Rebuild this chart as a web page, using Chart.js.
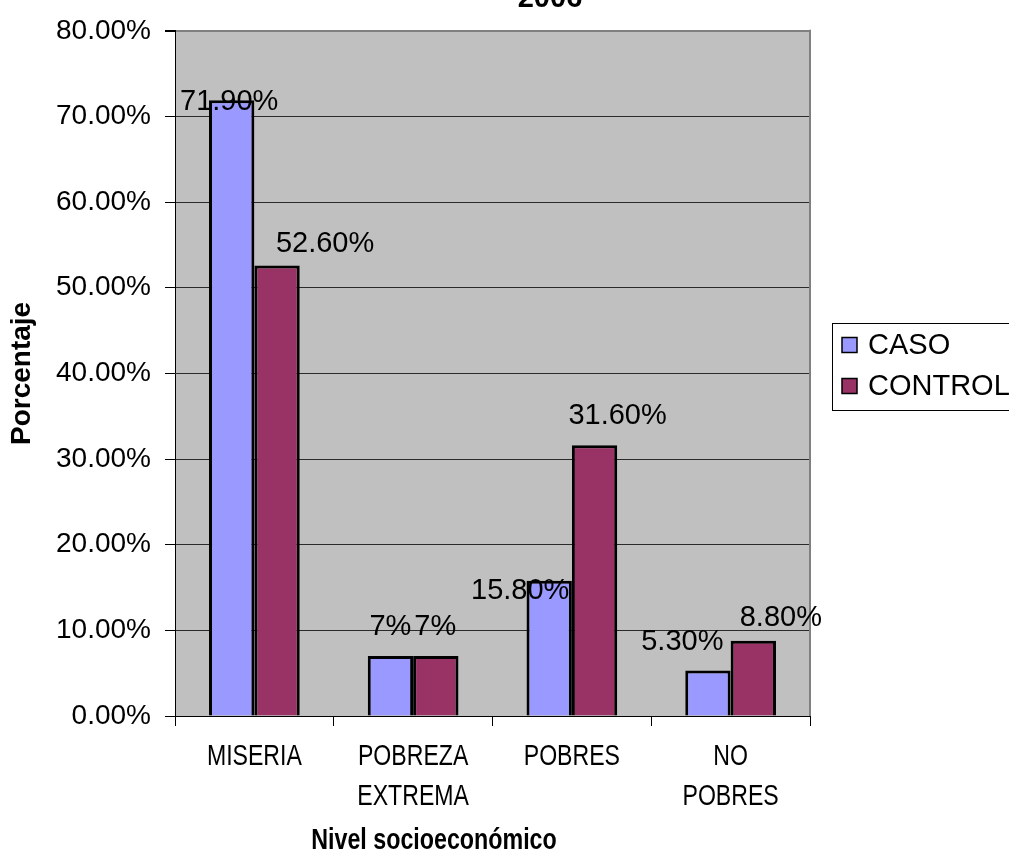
<!DOCTYPE html>
<html>
<head>
<meta charset="utf-8">
<script src="https://cdn.jsdelivr.net/npm/chart.js@4.4.0/dist/chart.umd.min.js"></script>
<style>
  html, body { margin: 0; padding: 0; background: #ffffff; overflow: hidden; }
  canvas { display: block; }
</style>
</head>
<body>
<canvas id="chart" width="1009" height="859"></canvas>
<script>
// Socioeconomic level, cases vs controls (percent)
const categories = [['MISERIA'], ['POBREZA', 'EXTREMA'], ['POBRES'], ['NO', 'POBRES']];
const seriesNames = ['CASO', 'CONTROL'];
const casoValues = [71.9, 7, 15.8, 5.3];
const controlValues = [52.6, 7, 31.6, 8.8];
const casoLabels = ['71.90%', '7%', '15.80%', '5.30%'];
const controlLabels = ['52.60%', '7%', '31.60%', '8.80%'];
const yTickLabels = ['0.00%', '10.00%', '20.00%', '30.00%', '40.00%', '50.00%', '60.00%', '70.00%', '80.00%'];
const chartTitle = '2006';
const xTitle = 'Nivel socioeconómico';
const yTitle = 'Porcentaje';

const SANS = "'Liberation Sans', Arial, sans-serif";

// grey plot background
const plotBackground = {
  id: 'plotBackground',
  beforeDraw(chart) {
    const { ctx, chartArea: a } = chart;
    ctx.save();
    ctx.fillStyle = '#c0c0c0';
    ctx.fillRect(a.left, a.top, a.right - a.left, a.bottom - a.top);
    ctx.restore();
  }
};

// draws text squeezed horizontally (condensed look)
function condensedText(ctx, text, x, y, squeeze) {
  ctx.save();
  ctx.translate(x, y);
  ctx.scale(squeeze, 1);
  ctx.fillText(text, 0, 0);
  ctx.restore();
}

// category labels, value labels, legend box, titles and the right frame edge
const decorations = {
  id: 'decorations',
  afterDraw(chart, args, opts) {
    const { ctx, chartArea: a } = chart;
    const xScale = chart.scales.x;
    ctx.save();

    // right edge of the plot frame
    ctx.strokeStyle = '#808080';
    ctx.lineWidth = 2;
    ctx.beginPath();
    ctx.moveTo(a.right, a.top - 1);
    ctx.lineTo(a.right, a.bottom);
    ctx.stroke();

    // category labels under the x axis
    ctx.fillStyle = '#000';
    ctx.font = '30px ' + SANS;
    ctx.textAlign = 'center';
    ctx.textBaseline = 'middle';
    chart.data.labels.forEach((lines, i) => {
      const x = xScale.getPixelForValue(i);
      lines.forEach((line, k) => {
        condensedText(ctx, line, x, a.bottom + opts.catFirstLine + k * opts.catLineGap, opts.catSqueeze);
      });
    });

    // value labels, placed relative to each bar's top centre
    ctx.font = '29px ' + SANS;
    const labelSets = [casoLabels, controlLabels];
    labelSets.forEach((labels, di) => {
      const meta = chart.getDatasetMeta(di);
      meta.data.forEach((bar, j) => {
        const off = opts.labelOffsets[di][j];
        ctx.fillText(labels[j], bar.x + off[0], bar.y + off[1]);
      });
    });

    // legend
    const lg = opts.legend;
    ctx.strokeStyle = '#000';
    ctx.lineWidth = 1;
    ctx.strokeRect(lg.x + 0.5, lg.y + 0.5, lg.w, lg.h);
    ctx.textAlign = 'left';
    chart.data.datasets.forEach((ds, i) => {
      const cy = lg.y + lg.firstRow + i * lg.rowGap;
      ctx.fillStyle = ds.backgroundColor;
      ctx.fillRect(lg.x + 10, cy - 7.5, 15, 15);
      ctx.lineWidth = 1.5;
      ctx.strokeStyle = '#000';
      ctx.strokeRect(lg.x + 10, cy - 7.5, 15, 15);
      ctx.fillStyle = '#000';
      ctx.fillText(ds.label, lg.x + 36, cy + 1);
    });

    // chart title (only its lower part lies inside the canvas)
    ctx.font = 'bold 29px ' + SANS;
    ctx.textAlign = 'center';
    ctx.textBaseline = 'alphabetic';
    ctx.fillText(chartTitle, opts.titleX, opts.titleBaseline);

    // x-axis title
    ctx.font = 'bold 30px ' + SANS;
    ctx.textBaseline = 'middle';
    condensedText(ctx, xTitle, opts.xTitleX, opts.xTitleY, opts.titleSqueeze);

    // y-axis title
    ctx.font = 'bold 28px ' + SANS;
    ctx.translate(opts.yTitleX, (a.top + a.bottom) / 2);
    ctx.rotate(-Math.PI / 2);
    ctx.fillText(yTitle, 0, 0);

    ctx.restore();
  }
};

new Chart(document.getElementById('chart'), {
  type: 'bar',
  data: {
    labels: categories,
    datasets: [
      {
        label: seriesNames[0],
        data: casoValues,
        backgroundColor: '#9999ff',
        borderColor: '#000000',
        borderWidth: 3,
        borderSkipped: 'bottom',
        categoryPercentage: 2 / 3.5,
        barPercentage: 1
      },
      {
        label: seriesNames[1],
        data: controlValues,
        backgroundColor: '#993366',
        borderColor: '#000000',
        borderWidth: 3,
        borderSkipped: 'bottom',
        categoryPercentage: 2 / 3.5,
        barPercentage: 1
      }
    ]
  },
  options: {
    responsive: false,
    animation: false,
    devicePixelRatio: 1,
    layout: { padding: { left: 0, top: 24, right: 199, bottom: 0 } },
    plugins: {
      legend: { display: false },
      tooltip: { enabled: false },
      decorations: {
        labelOffsets: [
          [[-2.5, 2], [0, -29.5], [-29, 10], [-25.6, -29]],
          [[48, -21], [-0.5, -29.5], [23, -29], [27.5, -23]]
        ],
        legend: { x: 832, y: 323, w: 190, h: 87, firstRow: 22, rowGap: 41 },
        catSqueeze: 0.77,
        titleSqueeze: 0.775,
        catFirstLine: 41,
        catLineGap: 40,
        titleX: 550,
        titleBaseline: 7,
        xTitleX: 434,
        xTitleY: 841,
        yTitleX: 22
      }
    },
    scales: {
      x: {
        offset: true,
        grid: {
          offset: true,
          drawOnChartArea: false,
          drawTicks: true,
          tickLength: 10,
          color: '#000000',
          lineWidth: 1
        },
        border: { display: true, color: '#000000', width: 1 },
        ticks: { display: false, autoSkip: false },
        afterFit(scale) { scale.height = 143; }
      },
      y: {
        min: 0,
        max: 80,
        ticks: {
          stepSize: 10,
          color: '#000000',
          font: { family: SANS, size: 28 },
          padding: 14,
          callback: (value, index) => yTickLabels[index]
        },
        grid: {
          color: (c) => (c.tick && c.tick.value === 80 ? '#808080' : '#2a2a2a'),
          lineWidth: (c) => (c.tick && c.tick.value === 80 ? 2 : 1),
          tickLength: 10,
          tickColor: '#000000'
        },
        border: { display: true, color: '#000000', width: 1 },
        afterFit(scale) { scale.width = 175; }
      }
    }
  },
  plugins: [plotBackground, decorations]
});
</script>
</body>
</html>
